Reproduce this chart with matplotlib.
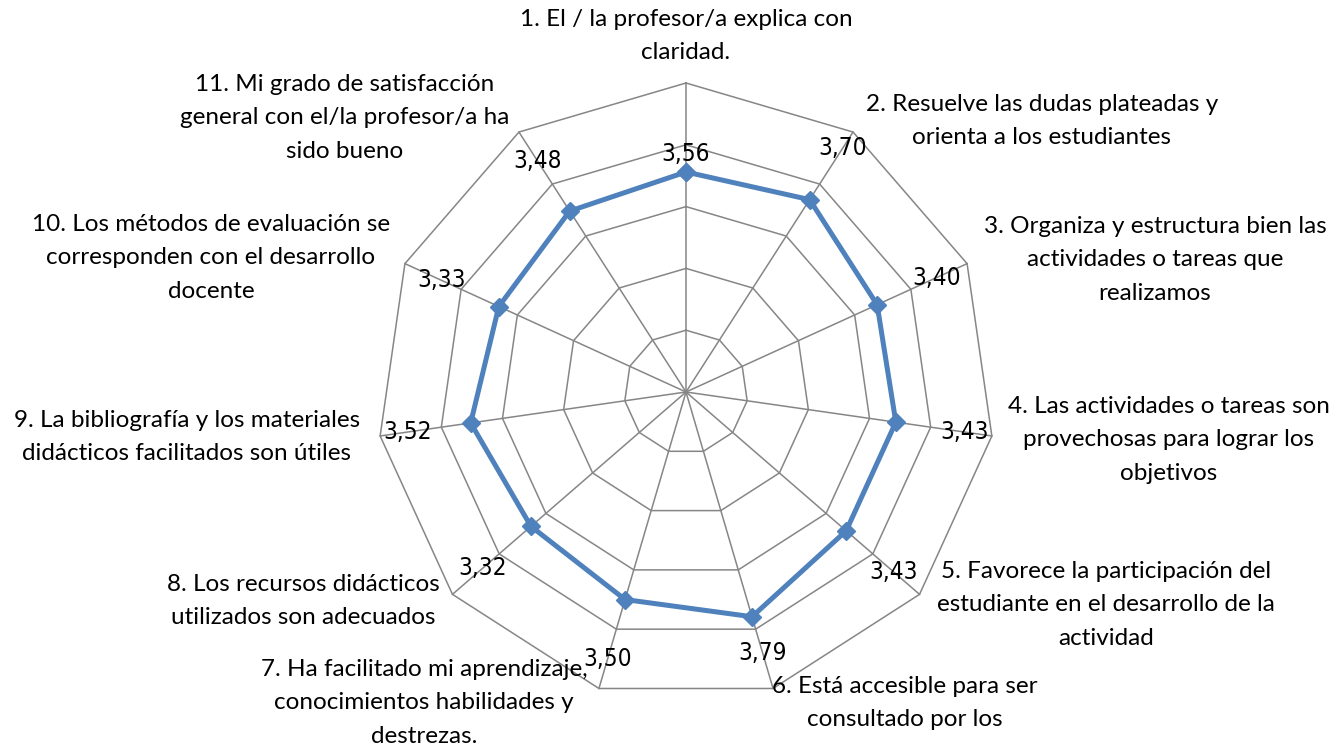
import matplotlib
matplotlib.use('Agg')
import matplotlib.pyplot as plt
import numpy as np

# category labels (clockwise from top) and mean scores
categories = [
    "1. El / la profesor/a explica con\nclaridad.",
    "2. Resuelve las dudas plateadas y\norienta a los estudiantes",
    "3. Organiza y estructura bien las\nactividades o tareas que\nrealizamos",
    "4. Las actividades o tareas son\nprovechosas para lograr los\nobjetivos",
    "5. Favorece la participación del\nestudiante en el desarrollo de la\nactividad",
    "6. Está accesible para ser\nconsultado por los",
    "7. Ha facilitado mi aprendizaje,\nconocimientos habilidades y\ndestrezas.",
    "8. Los recursos didácticos\nutilizados son adecuados",
    "9. La bibliografía y los materiales\ndidácticos facilitados son útiles",
    "10. Los métodos de evaluación se\ncorresponden con el desarrollo\ndocente",
    "11. Mi grado de satisfacción\ngeneral con el/la profesor/a ha\nsido bueno",
]
values = [3.56, 3.70, 3.40, 3.43, 3.43, 3.79, 3.50, 3.32, 3.52, 3.33, 3.48]
rings = [1, 2, 3, 4, 5]

# layout: pixel geometry of the reference
W, H = 1337, 746
cx, cy = 686, 392
R = 309.0
rmax = 5.0
unit = R / rmax

# where the category texts sit (pixel centre of the top line)
cat_pos = [(686, 20), (1042, 105), (1155, 227), (1169, 407), (1106, 572),
           (905, 687), (424, 670), (303, 585), (187, 421), (211, 225), (345, 85)]
# radius for the value labels
lab_r = [3.85, 4.7, 4.45, 4.55, 4.45, 4.4, 4.5, 4.35, 4.55, 4.35, 4.45]

fig = plt.figure(figsize=(W / 100, H / 100), dpi=100)
ax = fig.add_axes([0, 0, 1, 1])
ax.set_xlim(-cx / unit, (W - cx) / unit)
ax.set_ylim(-(H - cy) / unit, cy / unit)
ax.set_aspect('equal')
ax.axis('off')

n = len(categories)
ang = np.pi / 2 - np.arange(n) * 2 * np.pi / n
ca, sa = np.cos(ang), np.sin(ang)

grid_col = '#868686'
for r in rings:
    ax.plot(np.append(r * ca, r * ca[0]), np.append(r * sa, r * sa[0]),
            color=grid_col, lw=1.1, zorder=1)
for i in range(n):
    ax.plot([0, rmax * ca[i]], [0, rmax * sa[i]], color=grid_col, lw=1.1, zorder=1)

v = np.array(values)
ax.plot(np.append(v * ca, v[0] * ca[0]), np.append(v * sa, v[0] * sa[0]),
        color='#4F81BD', lw=3.6, marker='D', ms=9, zorder=3)

for i in range(n):
    ax.text(lab_r[i] * ca[i], lab_r[i] * sa[i], ('%.2f' % values[i]).replace('.', ','),
            ha='center', va='center', fontsize=17.5, family='DejaVu Sans',
            fontstretch='condensed', zorder=4)

for i in range(n):
    px, py = cat_pos[i]
    ax.text(px / W, 1 - (py - 11) / H, categories[i], transform=ax.transAxes,
            ha='center', va='top', multialignment='center', fontsize=17.5,
            family=['Lato', 'DejaVu Sans'], linespacing=1.73)

plt.savefig('out.png', dpi=100)
